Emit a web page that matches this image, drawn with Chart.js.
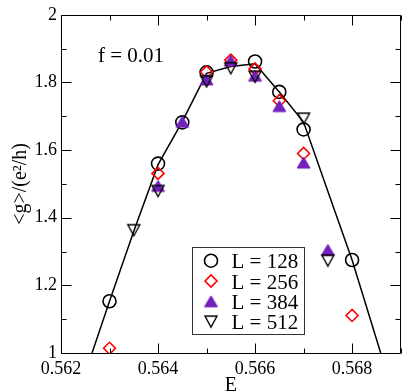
<!DOCTYPE html>
<html>
<head>
<meta charset="utf-8">
<script src="https://cdn.jsdelivr.net/npm/chart.js@4.4.1/dist/chart.umd.min.js"></script>
<style>
html,body{margin:0;padding:0;background:#fff;}
#wrap{width:409px;height:392px;}
</style>
</head>
<body>
<div id="wrap"><canvas id="c" width="409" height="392"></canvas></div>
<script>
// ---- data ----
const E128 = [0.563, 0.564, 0.5645, 0.565, 0.566, 0.5665, 0.567, 0.568];
const G128 = [1.153, 1.560, 1.682, 1.830, 1.862, 1.772, 1.661, 1.275];
const E256 = [0.563, 0.564, 0.565, 0.5655, 0.566, 0.5665, 0.567, 0.568];
const G256 = [1.014, 1.531, 1.831, 1.866, 1.840, 1.746, 1.590, 1.111];
const E384 = [0.564, 0.5645, 0.565, 0.5655, 0.566, 0.5665, 0.567, 0.5675];
const G384 = [1.494, 1.684, 1.809, 1.865, 1.820, 1.730, 1.563, 1.305];
const E512 = [0.5635, 0.564, 0.565, 0.5655, 0.566, 0.567, 0.5675];
const G512 = [1.363, 1.479, 1.803, 1.842, 1.817, 1.693, 1.273];
const lineE = [0.56264, 0.563, 0.5635, 0.564, 0.5645, 0.565, 0.5655, 0.566, 0.5665, 0.567, 0.5675, 0.568, 0.56859];
const lineG = [1.0, 1.153, 1.36, 1.557, 1.684, 1.827, 1.847, 1.855, 1.772, 1.683, 1.478, 1.275, 1.0];
const seriesLabels = ['L = 128', 'L = 256', 'L = 384', 'L = 512'];
const annotationText = 'f = 0.01';
const xTitle = 'E';
const yTitle = '<g>/(e\u00B2/h)';

const pts = (xs, ys) => xs.map((x, i) => ({x: x, y: ys[i]}));

// triangle marker images (centred on their bounding box)
function triCanvas(up, fill, stroke, w, h, lw) {
  const c = document.createElement('canvas');
  const pad = Math.ceil(lw) + 1;
  c.width = w + 2 * pad; c.height = h + 2 * pad;
  const g = c.getContext('2d');
  const x0 = pad, y0 = pad;
  g.beginPath();
  if (up) { g.moveTo(x0 + w / 2, y0); g.lineTo(x0 + w, y0 + h); g.lineTo(x0, y0 + h); }
  else { g.moveTo(x0, y0); g.lineTo(x0 + w, y0); g.lineTo(x0 + w / 2, y0 + h); }
  g.closePath();
  if (fill) { g.fillStyle = fill; g.fill(); }
  if (stroke) { g.lineWidth = lw; g.strokeStyle = stroke; g.lineJoin = 'miter'; g.stroke(); }
  return c;
}
const purple = '#7221bc';
const triUp = triCanvas(true, purple, purple, 13, 11, 1);
const triDown = triCanvas(false, null, '#000', 12, 11, 1.4);

const serif = "'Liberation Serif','Times New Roman',serif";

const framePlugin = {
  id: 'frame',
  afterDraw(chart) {
    const {ctx, chartArea: a} = chart;
    const xs = chart.scales.x, ys = chart.scales.y;
    const L = Math.round(a.left) + 0.5, R = Math.round(a.right) - 0.5;
    const T = Math.round(a.top) + 0.5, B = Math.round(a.bottom) + 0.5;
    ctx.save();
    ctx.strokeStyle = '#000';
    ctx.lineWidth = 1;
    ctx.beginPath();
    ctx.moveTo(L, T); ctx.lineTo(R, T); ctx.lineTo(R, B); ctx.lineTo(L, B); ctx.closePath();
    ctx.stroke();
    // inward ticks
    ctx.beginPath();
    xs.ticks.forEach((t) => {
      const major = t.label !== '' && t.label !== undefined;
      const len = major ? 10 : 5;
      const px = Math.round(xs.getPixelForValue(t.value)) + 0.5;
      ctx.moveTo(px, B); ctx.lineTo(px, B - len);
      ctx.moveTo(px, T); ctx.lineTo(px, T + len);
    });
    ys.ticks.forEach((t) => {
      const major = t.label !== '' && t.label !== undefined;
      const len = major ? 10 : 5;
      const py = Math.round(ys.getPixelForValue(t.value)) + 0.5;
      ctx.moveTo(L, py); ctx.lineTo(L + len, py);
      ctx.moveTo(R, py); ctx.lineTo(R - len, py);
    });
    ctx.stroke();

    // annotation text
    ctx.fillStyle = '#000';
    ctx.font = '21px ' + serif;
    ctx.textAlign = 'left';
    ctx.textBaseline = 'alphabetic';
    ctx.fillText(annotationText, a.left + 37, a.top + 47);

    // legend
    const bx = 192.5, by = 247.5, bw = 112, bh = 87;
    ctx.fillStyle = '#fff';
    ctx.fillRect(bx, by, bw, bh);
    ctx.strokeStyle = '#333';
    ctx.lineWidth = 1;
    ctx.strokeRect(bx, by, bw, bh);
    const rows = [260.7, 281, 301.3, 321.6];
    chart.data.datasets.filter(d => d.legendIndex !== undefined).forEach((d) => {
      const y = rows[d.legendIndex];
      ctx.save();
      ctx.strokeStyle = d.pointBorderColor || d.borderColor;
      ctx.fillStyle = d.pointBackgroundColor || d.backgroundColor;
      ctx.lineWidth = d.pointBorderWidth;
      Chart.helpers.drawPoint(ctx, {pointStyle: d.pointStyle, radius: d.pointRadius, rotation: 0, borderWidth: d.pointBorderWidth}, 211, y);
      ctx.restore();
      ctx.fillStyle = '#000';
      ctx.font = '21px ' + serif;
      ctx.textAlign = 'left';
      ctx.textBaseline = 'alphabetic';
      ctx.fillText(d.label, 231.5, y + 7.5);
    });
    ctx.restore();
  }
};

new Chart(document.getElementById('c'), {
  type: 'scatter',
  data: {
    datasets: [
      {label: 'fit', data: pts(lineE, lineG), showLine: true, borderColor: '#000', borderWidth: 1.5,
       pointRadius: 0, tension: 0, order: 5, fill: false},
      {label: seriesLabels[0], legendIndex: 0, data: pts(E128, G128), pointStyle: 'circle', pointRadius: 6.5,
       pointBorderWidth: 1.6, pointBorderColor: '#000', pointBackgroundColor: 'rgba(0,0,0,0)', order: 4},
      {label: seriesLabels[1], legendIndex: 1, data: pts(E256, G256), pointStyle: 'rectRot', pointRadius: 6,
       pointBorderWidth: 1.6, pointBorderColor: '#ff0000', pointBackgroundColor: 'rgba(0,0,0,0)', order: 3},
      {label: seriesLabels[2], legendIndex: 2, data: pts(E384, G384), pointStyle: triUp, pointRadius: 7,
       pointBorderWidth: 1, pointBorderColor: purple, pointBackgroundColor: purple, order: 2},
      {label: seriesLabels[3], legendIndex: 3, data: pts(E512, G512), pointStyle: triDown, pointRadius: 7,
       pointBorderWidth: 1.4, pointBorderColor: '#000', pointBackgroundColor: 'rgba(0,0,0,0)', order: 1}
    ]
  },
  options: {
    responsive: false,
    animation: false,
    devicePixelRatio: 1,
    layout: {padding: {top: 7, right: 3, left: 0, bottom: 0}},
    plugins: {legend: {display: false}, tooltip: {enabled: false}},
    scales: {
      x: {
        type: 'linear', min: 0.562, max: 0.569,
        grid: {display: false, drawTicks: false},
        border: {display: false},
        ticks: {
          stepSize: 0.001, autoSkip: false, maxRotation: 0, padding: 5,
          color: '#000', font: {family: serif, size: 18},
          callback: (v) => { const k = Math.round(v * 1000); return (k % 2 === 0 && k < 569) ? (k / 1000).toFixed(3) : ''; }
        },
        title: {display: true, text: xTitle, color: '#000', font: {family: serif, size: 20, lineHeight: 1}, padding: {top: 0, bottom: -4}},
        afterFit: (s) => { s.height = 39; }
      },
      y: {
        type: 'linear', min: 1, max: 2,
        grid: {display: false, drawTicks: false},
        border: {display: false},
        ticks: {
          stepSize: 0.1, autoSkip: false, padding: 4,
          color: '#000', font: {family: serif, size: 18},
          callback: (v) => { const k = Math.round(v * 10); if (k % 2 !== 0) return ''; if (k === 10) return '1'; if (k === 20) return '2'; return (k / 10).toFixed(1); }
        },
        title: {display: true, text: yTitle, color: '#000', font: {family: serif, size: 20}, padding: {top: 9, bottom: 0}},
        afterFit: (s) => { s.width = 61; }
      }
    }
  },
  plugins: [framePlugin]
});
</script>
</body>
</html>
